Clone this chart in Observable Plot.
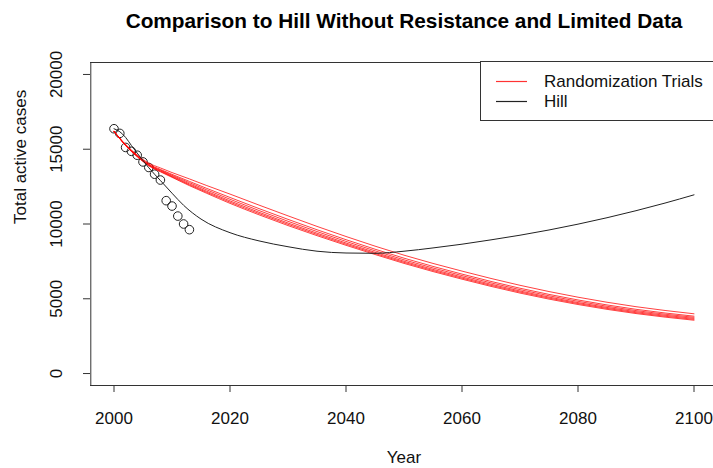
<!DOCTYPE html>
<html><head><meta charset="utf-8">
<script src="https://cdn.jsdelivr.net/npm/d3@7"></script>
<script src="https://cdn.jsdelivr.net/npm/@observablehq/plot@0.6"></script>
<style>
html,body{margin:0;padding:0;background:#fff;}
#chart{width:713px;height:468px;overflow:hidden;position:relative;}
#legend{position:absolute;left:0;top:0;}
</style></head><body><div id="chart"></div>
<script>
const titleText = "Comparison to Hill Without Resistance and Limited Data";
const xLabel = "Year";
const yLabel = "Total active cases";
const legendLabels = ["Randomization Trials", "Hill"];
const xTicks = [2000, 2020, 2040, 2060, 2080, 2100];
const yTicks = [0, 5000, 10000, 15000, 20000];

const obsYears = [2000,2001,2002,2003,2004,2005,2006,2007,2008,2009,2010,2011,2012,2013];
const obsCases = [16370,16060,15120,14860,14600,14150,13780,13330,12940,11560,11200,10530,10000,9620];

const hillYears = [2000,2001,2002,2003,2004,2006,2008,2010,2012,2015,2020,2025,2030,2035,2040,2045,2050,2055,2060,2065,2070,2075,2080,2085,2090,2095,2100];
const hillCases = [16370,16170,15790,15250,14740,13760,12910,12060,11250,10330,9420,8870,8480,8180,8060,8040,8180,8400,8650,8940,9250,9600,9990,10420,10890,11400,11950];

const trialYears = [2000,2002,2004,2006,2008,2010,2013,2016,2020,2025,2030,2035,2040,2045,2050,2060,2070,2080,2090,2100];
const trial1 = [16200,15320,14620,14070,13750,13440,13015,12570,12000,11265,10545,9840,9165,8520,7915,6850,5900,5105,4470,3995];
const trial2 = [16200,15290,14575,14005,13650,13320,12850,12380,11775,11030,10310,9615,8950,8315,7715,6650,5705,4920,4295,3835];
const trial3 = [16200,15275,14555,13970,13605,13260,12765,12280,11655,10900,10180,9495,8835,8205,7605,6550,5610,4830,4210,3760];
const trial4 = [16200,15260,14535,13940,13560,13205,12685,12185,11545,10785,10065,9385,8730,8105,7510,6455,5520,4745,4135,3690];
const trial5 = [16200,15250,14515,13915,13525,13160,12620,12115,11460,10700,9980,9300,8650,8030,7435,6380,5450,4680,4070,3625];
const trial6 = [16200,15240,14500,13890,13490,13120,12565,12050,11380,10615,9895,9220,8575,7960,7365,6310,5380,4615,4010,3565];

const obs = obsYears.map((year, i) => ({year, cases: obsCases[i]}));
const hill = hillYears.map((year, i) => ({year, cases: hillCases[i]}));
const trials = [trial1, trial2, trial3, trial4, trial5, trial6].flatMap((arr, k) =>
  trialYears.map((year, i) => ({trial: k, year, cases: arr[i]})));

const font = "'Liberation Sans', Arial, Helvetica, sans-serif";
const axisColor = "#333";
const fs = 17;
const trialColor = "#ff0000";
const hillColor = "#222";

const plot = Plot.plot({
  width: 713, height: 468,
  marginLeft: 90, marginRight: 0, marginTop: 62, marginBottom: 83,
  style: {fontFamily: font, fontSize: fs + "px", background: "#fff", color: "#111", overflow: "visible"},
  x: {domain: [1996, 2104], range: [90.3, 716.7]},
  y: {domain: [-800, 20800], range: [385, 62]},
  marks: [
    Plot.ruleX([1996], {stroke: axisColor, strokeWidth: 1}),
    Plot.ruleY([-800], {stroke: axisColor, strokeWidth: 1}),
    Plot.ruleY([20800], {stroke: axisColor, strokeWidth: 1}),
    Plot.axisX(xTicks, {anchor: "bottom", tickSize: 7, stroke: axisColor, tickFormat: () => "", label: null}),
    Plot.axisY(yTicks, {anchor: "left", tickSize: 7, stroke: axisColor, tickFormat: () => "", label: null}),
    Plot.text(xTicks, {x: d => d, frameAnchor: "bottom", dy: 33, text: d => String(d), lineAnchor: "middle", fontSize: fs, fill: "#111"}),
    Plot.text(yTicks, {y: d => d, frameAnchor: "left", dx: -34, rotate: -90, text: d => String(d), lineAnchor: "middle", textAnchor: "middle", fontSize: fs, fill: "#111"}),
    Plot.text([xLabel], {frameAnchor: "bottom", dx: 2, dy: 72, text: d => d, lineAnchor: "middle", fontSize: fs, fill: "#111"}),
    Plot.text([yLabel], {frameAnchor: "left", dx: -70, rotate: -90, text: d => d, lineAnchor: "middle", fontSize: fs, fill: "#111"}),
    Plot.text([titleText], {frameAnchor: "top", dx: 2, dy: -41, text: d => d, lineAnchor: "middle", fontSize: 20.8, fontWeight: "bold", fill: "#000"}),
    Plot.dot(obs, {x: "year", y: "cases", r: 4.3, stroke: "#222", strokeWidth: 1, fill: "none"}),
    Plot.line(trials, {x: "year", y: "cases", z: "trial", stroke: trialColor, strokeWidth: 0.75, curve: "monotone-x"}),
    Plot.line(hill, {x: "year", y: "cases", stroke: hillColor, strokeWidth: 1, curve: "monotone-x"})
  ]
});

document.getElementById("chart").appendChild(plot);

// legend (R style, top-right inset), drawn as a separate overlay SVG
const NS = "http://www.w3.org/2000/svg";
const leg = d3.select("#chart").append("svg").attr("id", "legend")
  .attr("width", 713).attr("height", 130)
  .style("font-family", font).style("font-size", fs + "px");
leg.append("rect").attr("x", 480.5).attr("y", 61.5).attr("width", 260).attr("height", 59)
  .attr("fill", "#fff").attr("stroke", axisColor).attr("stroke-width", 1);
const legendColors = ["#ff3333", hillColor];
legendLabels.forEach((lab, i) => {
  const y = 81 + i * 20;
  leg.append("line").attr("x1", 496).attr("x2", 527).attr("y1", y + 0.5).attr("y2", y + 0.5)
    .attr("stroke", legendColors[i]).attr("stroke-width", 1.2);
  leg.append("text").attr("x", 544).attr("y", y).attr("dy", "0.35em").attr("text-anchor", "start")
    .attr("fill", "#111").text(lab);
});
</script>
</body></html>
